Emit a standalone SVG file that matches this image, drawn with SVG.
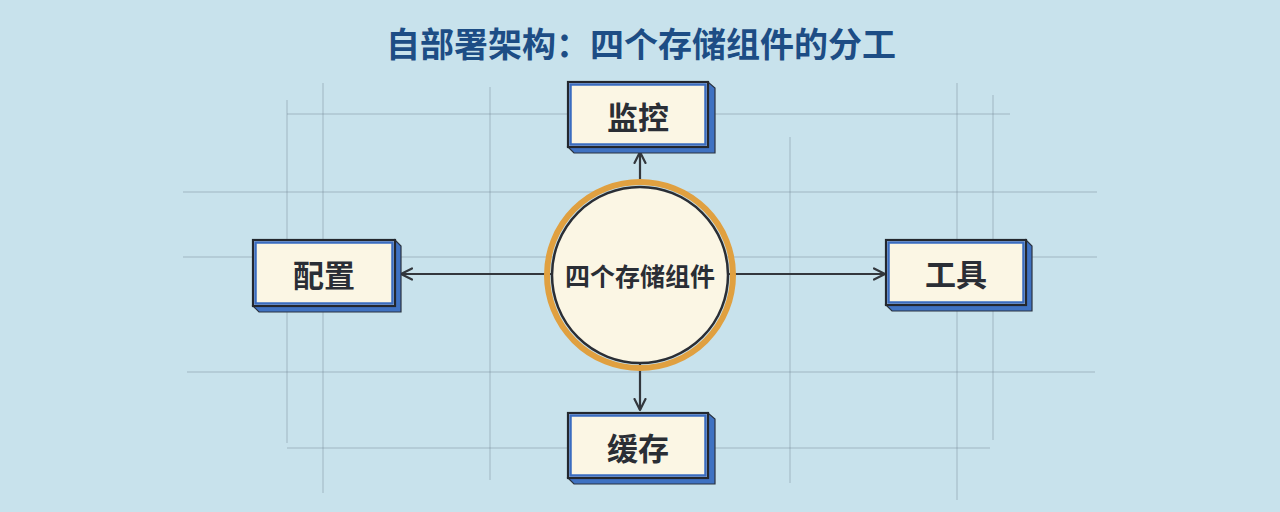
<svg xmlns="http://www.w3.org/2000/svg" width="1280" height="512" viewBox="0 0 1280 512">
  <defs>
    <style>
      .grid { stroke: #6f8290; stroke-width: 1; stroke-opacity: 0.45; fill: none; }
      .shadow { fill: #3f72c2; stroke: #2b3340; stroke-width: 1.2; }
      .face { fill: #fbf6e4; stroke: #23272e; stroke-width: 2.2; }
      .inner { fill: none; stroke: #3a6cc0; stroke-width: 2.5; }
      .lbl { font-family: "Noto Sans CJK SC", "Noto Sans", sans-serif; font-weight: 700; font-size: 31px; fill: #2a2e35; text-anchor: middle; dominant-baseline: central; }
      .conn { stroke: #33373d; stroke-width: 2.2; fill: none; marker-end: url(#arr); }
    </style>
    <marker id="arr" viewBox="0 0 14 14" refX="12" refY="7" markerWidth="14" markerHeight="14" markerUnits="userSpaceOnUse" orient="auto">
      <path d="M1,1.5 L12,7 L1,12.5" fill="none" stroke="#33373d" stroke-width="2.2" stroke-linecap="round" stroke-linejoin="round"/>
    </marker>
  </defs>

  <rect width="1280" height="512" fill="#c8e2ec"/>

  <g id="grid">
    <line class="grid" x1="287" y1="100" x2="287" y2="443"/>
    <line class="grid" x1="323" y1="83" x2="323" y2="493"/>
    <line class="grid" x1="490" y1="87" x2="490" y2="480"/>
    <line class="grid" x1="790" y1="137" x2="790" y2="483"/>
    <line class="grid" x1="957" y1="83" x2="957" y2="500"/>
    <line class="grid" x1="993" y1="95" x2="993" y2="440"/>
    <line class="grid" x1="287" y1="114" x2="1010" y2="114"/>
    <line class="grid" x1="183" y1="192" x2="1097" y2="192"/>
    <line class="grid" x1="183" y1="257" x2="1097" y2="257"/>
    <line class="grid" x1="187" y1="372" x2="1095" y2="372"/>
    <line class="grid" x1="287" y1="448" x2="990" y2="448"/>
  </g>

  <text x="641" y="42" font-family="Noto Sans CJK SC, Noto Sans, sans-serif" font-weight="700" font-size="34" fill="#1d4d85" text-anchor="middle" dominant-baseline="central">自部署架构：四个存储组件的分工</text>

  <g id="connectors">
    <line class="conn" x1="640" y1="185" x2="640" y2="152"/>
    <line class="conn" x1="552" y1="274" x2="401" y2="274"/>
    <line class="conn" x1="728" y1="274" x2="885" y2="274"/>
    <line class="conn" x1="640" y1="364" x2="640" y2="410"/>
  </g>

  <g id="center">
    <circle cx="640" cy="275" r="93" fill="none" stroke="#e0a040" stroke-width="6"/>
    <circle cx="640" cy="275" r="88" fill="#fbf6e4" stroke="#2a2e35" stroke-width="2.5"/>
    <text x="640" y="275" class="lbl" style="font-size:25px">四个存储组件</text>
  </g>

  <g id="node-monitor">
    <polygon class="shadow" points="568,147 574,153 715,153 715,88 708,82 708,147"/>
    <rect class="face" x="568" y="82" width="140" height="65"/>
    <rect class="inner" x="570.5" y="84.5" width="135" height="60"/>
    <text x="638" y="115" class="lbl">监控</text>
  </g>

  <g id="node-config">
    <polygon class="shadow" points="253,306 259,312 401,312 401,246 395,240 395,306"/>
    <rect class="face" x="253" y="240" width="142" height="66"/>
    <rect class="inner" x="255.5" y="242.5" width="137" height="61"/>
    <text x="324" y="273" class="lbl">配置</text>
  </g>

  <g id="node-tools">
    <polygon class="shadow" points="886,305 892,311 1032,311 1032,246 1026,240 1026,305"/>
    <rect class="face" x="886" y="240" width="140" height="65"/>
    <rect class="inner" x="888.5" y="242.5" width="135" height="60"/>
    <text x="956" y="272" class="lbl">工具</text>
  </g>

  <g id="node-cache">
    <polygon class="shadow" points="568,478 574,484 715,484 715,419 708,413 708,478"/>
    <rect class="face" x="568" y="413" width="140" height="65"/>
    <rect class="inner" x="570.5" y="415.5" width="135" height="60"/>
    <text x="638" y="446" class="lbl">缓存</text>
  </g>
</svg>
